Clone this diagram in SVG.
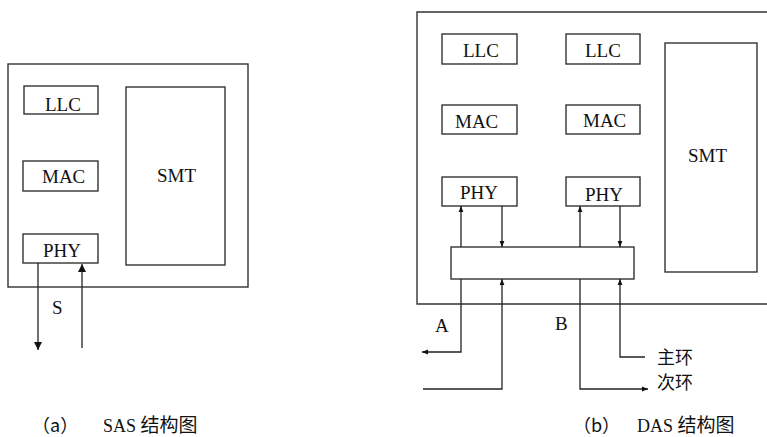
<svg xmlns="http://www.w3.org/2000/svg" width="767" height="437" viewBox="0 0 767 437">
<style>
.box{fill:none;stroke:#333;stroke-width:1.4}
.ln{fill:none;stroke:#222;stroke-width:1.3}
.t{font-size:19px;fill:#111}
.c{font-size:18px;fill:#111}
</style>
<defs>
<marker id="ab" viewBox="0 0 10 10" refX="10" refY="5" markerWidth="8" markerHeight="8" markerUnits="userSpaceOnUse" orient="auto"><path d="M0,0 L10,5 L0,10 z" fill="#111"/></marker>
<marker id="as" viewBox="0 0 10 10" refX="10" refY="5" markerWidth="6" markerHeight="6" markerUnits="userSpaceOnUse" orient="auto"><path d="M0,1 L10,5 L0,9 z" fill="#111"/></marker>
</defs>
<rect width="767" height="437" fill="#fff"/>
<!-- (a) SAS -->
<g id="sas-station"><rect class="box" x="8" y="64" width="240" height="223"/></g>
<g id="sas-llc"><rect class="box" x="24" y="86" width="74" height="28"/><text class="t" font-family="Liberation Serif, DejaVu Serif, serif" x="45" y="111">LLC</text></g>
<g id="sas-mac"><rect class="box" x="23" y="161" width="75" height="30"/><text class="t" font-family="Liberation Serif, DejaVu Serif, serif" x="42" y="183">MAC</text></g>
<g id="sas-phy"><rect class="box" x="23" y="234" width="75" height="29"/><text class="t" font-family="Liberation Serif, DejaVu Serif, serif" x="43" y="257">PHY</text></g>
<g id="sas-smt"><rect class="box" x="126" y="87" width="99" height="178"/><text class="t" font-family="Liberation Serif, DejaVu Serif, serif" x="157" y="182">SMT</text></g>
<g id="sas-connectors">
<line class="ln" x1="38" y1="263" x2="38" y2="350" marker-end="url(#ab)"/>
<line class="ln" x1="82" y1="348" x2="82" y2="264" marker-end="url(#ab)"/>
</g>
<text class="t" font-family="Liberation Serif, DejaVu Serif, serif" x="52" y="314">S</text>
<text class="c" font-family="Noto Sans CJK SC, sans-serif" x="32" y="432">（a）</text>
<text x="103" y="432"><tspan class="t" font-family="Liberation Serif, DejaVu Serif, serif" style="font-size:18px">SAS </tspan><tspan class="c" font-family="Noto Sans CJK SC, sans-serif" style="font-size:19px">结构图</tspan></text>
<!-- (b) DAS -->
<g id="das-station"><path class="box" d="M775,12 H417 V304 H775"/></g>
<g id="das-llc1"><rect class="box" x="442" y="34" width="75" height="30"/><text class="t" font-family="Liberation Serif, DejaVu Serif, serif" x="463" y="57">LLC</text></g>
<g id="das-llc2"><rect class="box" x="566" y="34" width="74" height="30"/><text class="t" font-family="Liberation Serif, DejaVu Serif, serif" x="585" y="57">LLC</text></g>
<g id="das-mac1"><rect class="box" x="442" y="105" width="75" height="29"/><text class="t" font-family="Liberation Serif, DejaVu Serif, serif" x="455" y="128">MAC</text></g>
<g id="das-mac2"><rect class="box" x="566" y="105" width="74" height="29"/><text class="t" font-family="Liberation Serif, DejaVu Serif, serif" x="583" y="127">MAC</text></g>
<g id="das-phy1"><rect class="box" x="442" y="177" width="75" height="29"/><text class="t" font-family="Liberation Serif, DejaVu Serif, serif" x="460" y="199">PHY</text></g>
<g id="das-phy2"><rect class="box" x="566" y="177" width="74" height="29"/><text class="t" font-family="Liberation Serif, DejaVu Serif, serif" x="585" y="201">PHY</text></g>
<g id="das-smt"><rect class="box" x="665" y="43" width="92" height="229"/><text class="t" font-family="Liberation Serif, DejaVu Serif, serif" x="688" y="162">SMT</text></g>
<g id="das-bar"><rect class="box" x="451" y="247" width="183" height="32"/></g>
<g id="das-connectors">
<line class="ln" x1="461" y1="247" x2="461" y2="206" marker-end="url(#as)"/>
<line class="ln" x1="502" y1="206" x2="502" y2="247" marker-end="url(#as)"/>
<line class="ln" x1="580" y1="247" x2="580" y2="206" marker-end="url(#as)"/>
<line class="ln" x1="620" y1="206" x2="620" y2="247" marker-end="url(#as)"/>
<path class="ln" d="M461,279 V352 H422" marker-end="url(#as)"/>
<path class="ln" d="M423,389 H502 V279" marker-end="url(#as)"/>
<path class="ln" d="M580,279 V389 H648" marker-end="url(#as)"/>
<path class="ln" d="M645,357 H620 V279" marker-end="url(#as)"/>
</g>
<text class="t" font-family="Liberation Serif, DejaVu Serif, serif" x="435" y="332">A</text>
<text class="t" font-family="Liberation Serif, DejaVu Serif, serif" x="555" y="330">B</text>
<text class="c" font-family="Noto Sans CJK SC, sans-serif" x="657" y="364">主环</text>
<text class="c" font-family="Noto Sans CJK SC, sans-serif" x="657" y="389">次环</text>
<text class="c" font-family="Noto Sans CJK SC, sans-serif" x="573" y="432">（b）</text>
<text x="637" y="432"><tspan class="t" font-family="Liberation Serif, DejaVu Serif, serif" style="font-size:18px">DAS </tspan><tspan class="c" font-family="Noto Sans CJK SC, sans-serif" style="font-size:19px">结构图</tspan></text>
</svg>
